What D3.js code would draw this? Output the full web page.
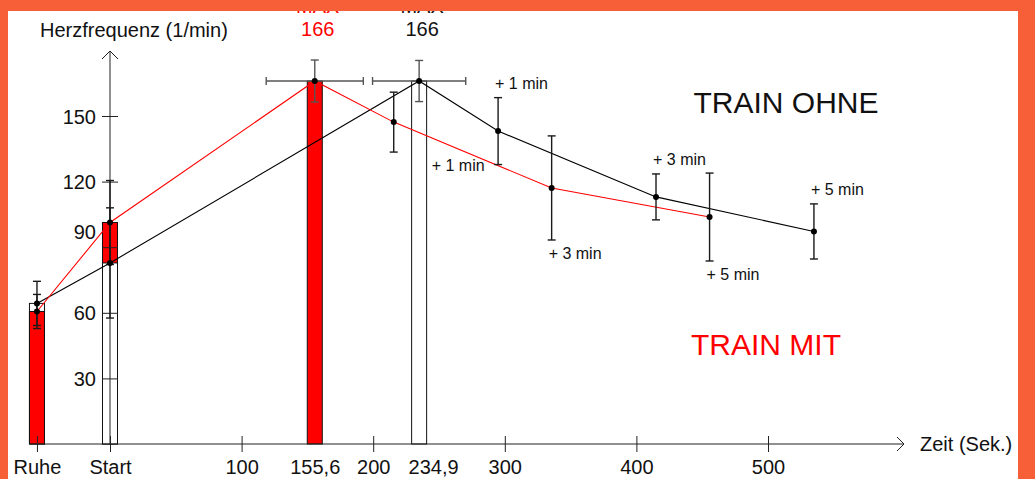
<!DOCTYPE html>
<html>
<head>
<meta charset="utf-8">
<script src="https://cdn.jsdelivr.net/npm/d3@7/dist/d3.min.js"></script>
<style>
  html, body { margin: 0; padding: 0; background: #ffffff; }
  svg { display: block; }
  text { font-family: "Liberation Sans", Arial, Helvetica, sans-serif; }
</style>
</head>
<body>
<svg id="chart" width="1035" height="479"></svg>
<script>
// Heart rate (1/min) over time (s): training with vs. without
const seriesNames = ["TRAIN OHNE", "TRAIN MIT"];
const seriesColors = ["#000000", "#ff0000"];

// time of each measurement (s); rest is placed left of the start
const timeOhne = [-55.5, 0, 234.9, 294.9, 414.9, 534.9];
const timeMit  = [-55.5, 0, 155.6, 215.6, 335.6, 455.6];

// mean heart rate and standard deviation
const hrOhne   = [64.3, 82.8, 166, 143.1, 113.0, 97.2];
const sdOhne   = [10.1, 25.2, 9.4, 15.3, 10.5, 12.6];
const hrMit    = [60.6, 101.3, 166, 147.2, 117.1, 103.8];
const sdMit    = [7.8, 19.2, 9.6, 13.7, 23.8, 20.1];

// spread of the time at which the maximum was reached
const sdTimeMaxOhne = 35.4;
const sdTimeMaxMit  = 36.9;

// which points carry a bar, and the recovery labels
const barFlags   = [true, true, true, false, false, false];
const pointNotes = ["", "", "", "+ 1 min", "+ 3 min", "+ 5 min"];

// axis ticks
const xTickValues = [-55.5, 0, 100, 155.6, 200, 234.9, 300, 400, 500];
const xTickLabels = ["Ruhe", "Start", "100", "155,6", "200", "234,9", "300", "400", "500"];
const xTickMarked = [-55.5, 0, 100, 200, 300, 400, 500];
const yTickValues = [30, 60, 90, 120, 150];

const yAxisTitle = "Herzfrequenz (1/min)";
const xAxisTitle = "Zeit (Sek.)";
const maxWord = "MAX";

const W = 1035, H = 479;
const svg = d3.select("#chart");

const x = d3.scaleLinear().domain([0, 500]).range([110, 768]);
const y = d3.scaleLinear().domain([0, 150]).range([444, 116]);

const series = [
  { name: seriesNames[0], color: seriesColors[0], t: timeOhne, v: hrOhne, sd: sdOhne, sdT: sdTimeMaxOhne },
  { name: seriesNames[1], color: seriesColors[1], t: timeMit,  v: hrMit,  sd: sdMit,  sdT: sdTimeMaxMit }
].map(s => ({
  ...s,
  pts: s.t.map((t, i) => ({ t, v: s.v[i], sd: s.sd[i], bar: barFlags[i], note: pointNotes[i], i }))
}));

// white plotting sheet
svg.append("rect").attr("x", 0).attr("y", 0).attr("width", W).attr("height", H).attr("fill", "#ffffff");

// ---- bars (taller drawn first so the shorter one stays visible) ----
const barW = 15;
const bars = [];
series.forEach(s => s.pts.filter(p => p.bar).forEach(p => bars.push({ s, p })));
bars.sort((a, b) => b.p.v - a.p.v);
svg.append("g").selectAll("rect").data(bars).join("rect")
  .attr("x", d => x(d.p.t) - barW / 2)
  .attr("y", d => y(d.p.v))
  .attr("width", barW)
  .attr("height", d => y(0) - y(d.p.v))
  .attr("fill", d => d.s.color === "#ff0000" ? "#ff0000" : "#ffffff")
  .attr("stroke", "#111")
  .attr("stroke-width", 1);

// ---- axes ----
const axisG = svg.append("g").attr("stroke", "#222").attr("fill", "none").attr("stroke-width", 1);
// x axis line with open arrow
axisG.append("line").attr("x1", x(-60.5)).attr("x2", 904).attr("y1", y(0)).attr("y2", y(0));
axisG.append("path").attr("d", `M897,${y(0) - 7}L904,${y(0)}L897,${y(0) + 7}`);
// y axis line with open arrow
axisG.append("line").attr("x1", x(0)).attr("x2", x(0)).attr("y1", y(0)).attr("y2", 51);
axisG.append("path").attr("d", `M${x(0) - 8},59L${x(0)},51L${x(0) + 8},59`);

// x ticks crossing the axis
const xAxis = d3.axisBottom(x)
  .tickValues(xTickValues)
  .tickSize(0)
  .tickPadding(0)
  .tickFormat((d, i) => xTickLabels[i]);
const gx = svg.append("g").attr("transform", `translate(0,${y(0)})`).call(xAxis);
gx.select(".domain").remove();
gx.selectAll(".tick text")
  .attr("fill", "#111")
  .attr("font-size", 20)
  .attr("dy", null)
  .attr("y", 30)
  .attr("dx", d => d === 234.9 ? 14 : 0);
gx.selectAll(".tick").filter(d => xTickMarked.includes(d))
  .append("line").attr("y1", -8).attr("y2", 8).attr("stroke", "#222");

// y ticks crossing the axis
const yAxis = d3.axisLeft(y).tickValues(yTickValues).tickSize(0).tickPadding(14);
const gy = svg.append("g").attr("transform", `translate(${x(0)},0)`).call(yAxis);
gy.select(".domain").remove();
gy.selectAll(".tick line").remove();
gy.selectAll(".tick").append("line").attr("x1", -8).attr("x2", 8).attr("stroke", "#222");
gy.selectAll(".tick text")
  .attr("fill", "#111")
  .attr("font-size", 20)
  .attr("dy", "0.35em")
  .attr("y", d => d === 90 ? -16 : 0);

// axis titles
svg.append("text").attr("x", 40).attr("y", 37).attr("font-size", 20).attr("fill", "#111").text(yAxisTitle);
svg.append("text").attr("x", 920).attr("y", y(0) + 7).attr("font-size", 20).attr("fill", "#111").text(xAxisTitle);

// ---- connecting lines ----
const line = d3.line().x(p => x(p.t)).y(p => y(p.v));
series.forEach(s => {
  svg.append("path").datum(s.pts).attr("d", line)
    .attr("fill", "none").attr("stroke", s.color).attr("stroke-width", 1.1);
});

// ---- error bars ----
const cap = 4;
series.forEach(s => {
  const g = svg.append("g").attr("fill", "none");
  s.pts.forEach(p => {
    const isMax = p.i === 2;
    const col = isMax ? "#555" : "#1a1a1a";
    const cx = x(p.t), y1 = y(p.v + p.sd), y2 = y(p.v - p.sd);
    g.append("line").attr("x1", cx).attr("x2", cx).attr("y1", y1).attr("y2", y2).attr("stroke", col).attr("stroke-width", 1.4);
    g.append("line").attr("x1", cx - cap).attr("x2", cx + cap).attr("y1", y1).attr("y2", y1).attr("stroke", col).attr("stroke-width", 1.4);
    g.append("line").attr("x1", cx - cap).attr("x2", cx + cap).attr("y1", y2).attr("y2", y2).attr("stroke", col).attr("stroke-width", 1.4);
    if (isMax) {
      const xa = x(p.t - s.sdT), xb = x(p.t + s.sdT), cy = y(p.v);
      g.append("line").attr("x1", xa).attr("x2", xb).attr("y1", cy).attr("y2", cy).attr("stroke", col).attr("stroke-width", 1.4);
      g.append("line").attr("x1", xa).attr("x2", xa).attr("y1", cy - cap).attr("y2", cy + cap).attr("stroke", col).attr("stroke-width", 1.4);
      g.append("line").attr("x1", xb).attr("x2", xb).attr("y1", cy - cap).attr("y2", cy + cap).attr("stroke", col).attr("stroke-width", 1.4);
    }
  });
});

// ---- points ----
series.forEach(s => {
  svg.append("g").selectAll("circle").data(s.pts).join("circle")
    .attr("cx", p => x(p.t)).attr("cy", p => y(p.v)).attr("r", 3).attr("fill", "#000");
});

// ---- recovery labels: OHNE above the error bar, MIT below ----
series.forEach((s, si) => {
  s.pts.filter(p => p.note).forEach(p => {
    const above = si === 0;
    const shift = (!above && p.i === 3) ? 38 : -3;
    svg.append("text")
      .attr("x", x(p.t) + shift)
      .attr("y", above ? y(p.v + p.sd) - 9 : y(p.v - p.sd) + 19)
      .attr("font-size", 16).attr("fill", "#111")
      .text(p.note);
  });
});

// ---- maximum labels ----
series.forEach(s => {
  const p = s.pts[2];
  svg.append("text").attr("x", x(p.t) + 3).attr("y", 36).attr("text-anchor", "middle")
    .attr("font-size", 20).attr("fill", s.color === "#ff0000" ? "#ff0000" : "#111").text(d3.format("d")(p.v));
  svg.append("text").attr("x", x(p.t) + 3).attr("y", 13).attr("text-anchor", "middle")
    .attr("font-size", 20).attr("fill", s.color === "#ff0000" ? "#ff0000" : "#111").text(maxWord);
});

// ---- series names ----
svg.append("text").attr("x", 786).attr("y", 113).attr("text-anchor", "middle")
  .attr("font-size", 30).attr("fill", "#111").text(seriesNames[0]);
svg.append("text").attr("x", 766).attr("y", 355).attr("text-anchor", "middle")
  .attr("font-size", 30).attr("fill", "#ff0000").text(seriesNames[1]);

// ---- orange frame ----
const frame = svg.append("g").attr("fill", "#f65f38");
frame.append("rect").attr("x", 0).attr("y", 0).attr("width", W).attr("height", 11);
frame.append("rect").attr("x", 0).attr("y", 0).attr("width", 8).attr("height", H);
frame.append("rect").attr("x", 1018).attr("y", 0).attr("width", W - 1018).attr("height", H);
</script>
</body>
</html>
